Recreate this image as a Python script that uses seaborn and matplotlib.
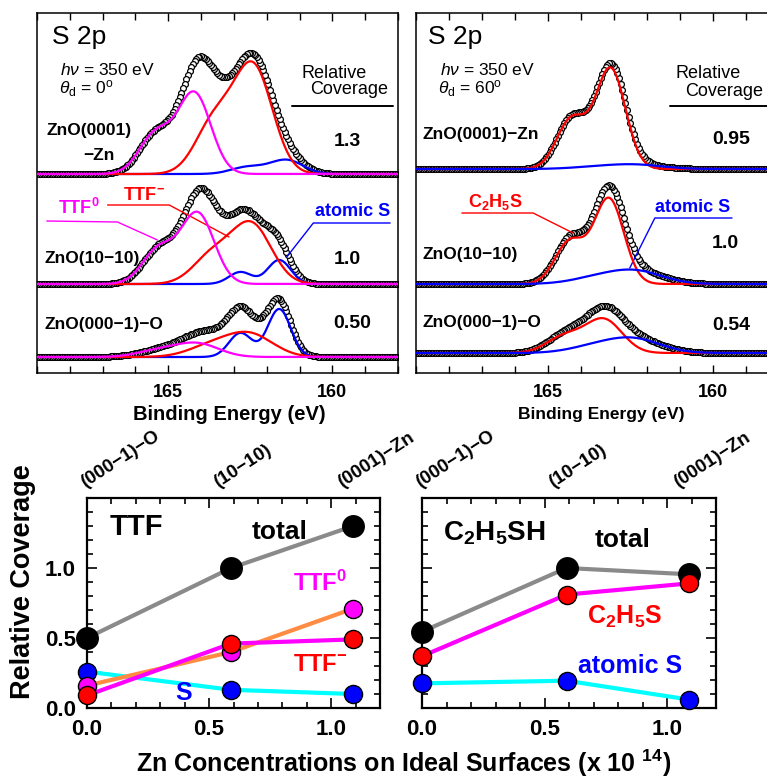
import numpy as np
import pandas as pd
import seaborn as sns
import matplotlib.pyplot as plt
from matplotlib.ticker import MultipleLocator

sns.set_style("ticks")
plt.rcParams['font.family'] = ['Liberation Sans', 'DejaVu Sans']
plt.rcParams['mathtext.fontset'] = 'custom'
plt.rcParams['mathtext.rm'] = 'Liberation Sans'
plt.rcParams['mathtext.it'] = 'Liberation Sans:italic'
plt.rcParams['mathtext.bf'] = 'Liberation Sans:bold'
for key in ['text.color', 'axes.labelcolor', 'xtick.color', 'ytick.color', 'axes.edgecolor']:
    plt.rcParams[key] = 'black'

MINUS = "\u2212"

# ---- S 2p spectra, fitted components ----
# each component is an S 2p doublet: 2p3/2 position (eV), peak height (a.u.), gaussian width (eV)
ttf_surfaces = ["ZnO(0001)\n" + MINUS + "Zn", "ZnO(10" + MINUS + "10)", "ZnO(000" + MINUS + "1)" + MINUS + "O"]
ttf_coverage = ["1.3", "1.0", "0.50"]
ttf0_pos = [164.2, 164.1, 164.1]
ttf0_height = [80, 70, 13]
ttf0_width = [0.5, 0.5, 0.65]
ttfm_pos = [162.4, 162.45, 162.5]
ttfm_height = [105, 58, 22]
ttfm_width = [0.58, 0.6, 0.7]
ttfs_pos = [161.4, 161.62, 161.62]
ttfs_height = [14, 24, 48]
ttfs_width = [0.5, 0.35, 0.35]

eth_surfaces = ["ZnO(0001)" + MINUS + "Zn", "ZnO(10" + MINUS + "10)", "ZnO(000" + MINUS + "1)" + MINUS + "O"]
eth_coverage = ["0.95", "1.0", "0.54"]
eth_c2h5s_pos = [163.1, 163.15, 163.3]
eth_c2h5s_height = [100, 85, 33]
eth_c2h5s_width = [0.45, 0.45, 0.55]
eth_s_pos = [162.3, 162.3, 162.35]
eth_s_height = [4, 12, 13]
eth_s_width = [0.8, 0.8, 0.8]

SO_SPLIT = 1.18   # 2p1/2 - 2p3/2 splitting
SO_RATIO = 0.5

# ---- coverage vs Zn concentration ----
zn_conc = [0.0, 0.59, 1.09]
surface_names = ["(000" + MINUS + "1)" + MINUS + "O", "(10" + MINUS + "10)", "(0001)" + MINUS + "Zn"]
ttf_total = [0.50, 1.00, 1.30]
ttf_neutral = [0.16, 0.40, 0.71]
ttf_anion = [0.09, 0.46, 0.49]
ttf_atomic_s = [0.26, 0.13, 0.10]
eth_total = [0.545, 1.00, 0.955]
eth_thiolate = [0.37, 0.81, 0.89]
eth_atomic_s = [0.176, 0.195, 0.06]

# layout: vertical offsets of the stacked spectra, nudges of the rotated surface names
ttf_offsets = [199, 89, 16]
eth_offsets = [204, 89, 20]
name_nudge = [0.0, -0.045, -0.035]

energy = np.arange(158.0, 169.2, 0.05)


def doublet(c, h, w):
    return (h * np.exp(-(energy - c) ** 2 / (2 * w ** 2))
            + SO_RATIO * h * np.exp(-(energy - c - SO_SPLIT) ** 2 / (2 * w ** 2)))


MAG = '#ff00ff'
RED = '#ff0000'
BLUE = '#0000ff'
CYAN = '#00ffff'
ORANGE = '#ff8c42'
GRAY = '#8a8a8a'

fig = plt.figure(figsize=(7.67, 7.80), dpi=100)
W, H = 767, 780


def px_axes(x0, y0, x1, y1):
    return fig.add_axes([x0 / W, (H - y1) / H, (x1 - x0) / W, (y1 - y0) / H])


def spectra_axes(ax, xmax):
    ax.set_xlim(169.0, xmax)
    ax.set_ylim(0, 360)
    ax.set_yticks([])
    ax.set_xticks([165, 160])
    ax.xaxis.set_minor_locator(MultipleLocator(1))
    ax.tick_params(axis='x', which='both', direction='in', top=True, width=1)
    ax.tick_params(axis='x', which='major', length=6, labelsize=13, pad=8)
    ax.tick_params(axis='x', which='minor', length=5)
    for lab in ax.get_xticklabels():
        lab.set_fontweight('bold')
    for sp in ax.spines.values():
        sp.set_linewidth(1.1)


def draw_spectrum(ax, off, comps):
    total = sum(y for y, _ in comps)
    ax.plot(energy, total + off, ls='none', marker='o', ms=4.2, mfc='white',
            mec='black', mew=0.9, zorder=2)
    for y, col in comps:
        sns.lineplot(x=energy, y=y + off, color=col, lw=1.6, ax=ax, sort=False,
                     estimator=None, zorder=3)


# ---------- top left: TTF ----------
ax1 = px_axes(37, 13, 398, 373)
spectra_axes(ax1, 158.0)
for i in range(3):
    comps = [(doublet(ttfs_pos[i], ttfs_height[i], ttfs_width[i]), BLUE),
             (doublet(ttfm_pos[i], ttfm_height[i], ttfm_width[i]), RED),
             (doublet(ttf0_pos[i], ttf0_height[i], ttf0_width[i]), MAG)]
    draw_spectrum(ax1, ttf_offsets[i], comps)

ax1.text(168.55, 336, "S 2p", fontsize=19, va='center')
ax1.text(168.30, 303, r"$h\nu$ = 350 eV", fontsize=12.5, va='center')
ax1.text(168.33, 284, r"$\theta_\mathrm{d}$ = 0$^\mathrm{o}$", fontsize=12.5, va='center')
ax1.text(160.94, 300, "Relative", fontsize=13, va='center')
ax1.text(160.67, 283, "Coverage", fontsize=13, va='center')
ax1.plot([161.24, 158.15], [267, 267], color='black', lw=1.4)
ax1.text(168.72, 242, "ZnO(0001)", fontsize=12.5, fontweight='bold', va='center')
ax1.text(167.6, 218, MINUS + "Zn", fontsize=12.5, fontweight='bold', va='center')
ax1.text(168.76, 115, ttf_surfaces[1], fontsize=12.5, fontweight='bold', va='center')
ax1.text(168.76, 48, ttf_surfaces[2], fontsize=12.5, fontweight='bold', va='center')
for y, t in zip([232, 114, 50], ttf_coverage):
    ax1.text(159.97, y, t, fontsize=14, fontweight='bold', va='center')
ax1.text(168.36, 165, r"TTF$^{\mathbf{0}}$", fontsize=13, fontweight='bold', color=MAG, va='center')
ax1.plot([168.70, 166.55, 165.33], [152, 151, 133], color=MAG, lw=1)
ax1.text(166.39, 178, r"TTF$^{\mathbf{-}}$", fontsize=13, fontweight='bold', color=RED, va='center')
ax1.plot([166.85, 164.97, 163.15], [168, 168, 136], color=RED, lw=1)
ax1.text(160.52, 161, "atomic S", fontsize=13, fontweight='bold', color=BLUE, va='center')
ax1.plot([158.24, 160.58, 161.39], [150, 150, 116], color=BLUE, lw=1)
ax1.set_xlabel("Binding Energy (eV)", fontsize=14.5, fontweight='bold')
ax1.xaxis.set_label_coords(0.532, -0.088)

# ---------- top right: C2H5SH ----------
ax2 = px_axes(416, 13, 767, 373)
spectra_axes(ax2, 158.36)
ax2.spines['right'].set_visible(False)
for i in range(3):
    comps = [(doublet(eth_c2h5s_pos[i], eth_c2h5s_height[i], eth_c2h5s_width[i]), RED),
             (doublet(eth_s_pos[i], eth_s_height[i], eth_s_width[i]), BLUE)]
    draw_spectrum(ax2, eth_offsets[i], comps)

ax2.text(168.64, 336, "S 2p", fontsize=19, va='center')
ax2.text(168.27, 303, r"$h\nu$ = 350 eV", fontsize=12.5, va='center')
ax2.text(168.33, 284, r"$\theta_\mathrm{d}$ = 60$^\mathrm{o}$", fontsize=12.5, va='center')
ax2.text(161.12, 300, "Relative", fontsize=13, va='center')
ax2.text(160.85, 281, "Coverage", fontsize=13, va='center')
ax2.plot([161.3, 158.3], [267, 267], color='black', lw=1.4, clip_on=False)
for y, t in zip([238, 118, 51], eth_surfaces):
    ax2.text(168.79, y, t, fontsize=12.5, fontweight='bold', va='center')
for y, t in zip([233, 130, 48], eth_coverage):
    ax2.text(160.03, y, t, fontsize=14, fontweight='bold', va='center')
ax2.text(167.42, 171, r"C$_{\mathbf{2}}$H$_{\mathbf{5}}$S", fontsize=13, fontweight='bold', color=RED, va='center')
ax2.plot([167.61, 165.45, 164.24], [160, 160, 140], color=RED, lw=1)
ax2.text(161.76, 166, "atomic S", fontsize=13, fontweight='bold', color=BLUE, va='center')
ax2.plot([159.42, 161.76, 162.52], [155, 155, 105], color=BLUE, lw=1)
ax2.set_xlabel("Binding Energy (eV)", fontsize=12.5, fontweight='bold')
ax2.xaxis.set_label_coords(0.527, -0.095)


# ---------- bottom panels ----------
def coverage_axes(ax, left_labels):
    ax.set_xlim(0, 1.2)
    ax.set_ylim(0, 1.5)
    ax.set_xticks([0, 0.5, 1.0])
    ax.set_yticks([0, 0.5, 1.0])
    ax.set_xticklabels(["0.0", "0.5", "1.0"])
    ax.set_yticklabels(["0.0", "0.5", "1.0"])
    ax.xaxis.set_minor_locator(MultipleLocator(0.1))
    ax.yaxis.set_minor_locator(MultipleLocator(0.1))
    ax.tick_params(which='both', direction='in', top=True, right=True, width=1.2)
    ax.tick_params(which='major', length=7, labelsize=16, pad=8)
    ax.tick_params(which='minor', length=4)
    ax.tick_params(axis='y', labelleft=left_labels)
    for lab in ax.get_xticklabels() + ax.get_yticklabels():
        lab.set_fontweight('bold')
    for sp in ax.spines.values():
        sp.set_linewidth(1.6)
    ax.set_xlabel("")
    ax.set_ylabel("")
    for x, dx, name in zip(zn_conc, name_nudge, surface_names):
        ax.text(x + dx, 1.55, name, fontsize=13.5, fontweight='bold', rotation=33,
                rotation_mode='anchor', ha='left', va='bottom', clip_on=False)


def series(ax, yvals, line_col, marker_col, size):
    df = pd.DataFrame({'conc': zn_conc, 'coverage': yvals})
    sns.lineplot(data=df, x='conc', y='coverage', color=line_col, lw=3, ax=ax, zorder=2)
    sns.scatterplot(data=df, x='conc', y='coverage', color=marker_col, s=size,
                    edgecolor='black', linewidth=1, ax=ax, zorder=3, clip_on=False)


ax3 = px_axes(87, 498, 380, 708)
series(ax3, ttf_total, GRAY, 'black', 240)
series(ax3, ttf_atomic_s, CYAN, BLUE, 170)
series(ax3, ttf_neutral, ORANGE, MAG, 170)
series(ax3, ttf_anion, MAG, RED, 170)
coverage_axes(ax3, True)
ax3.text(0.094, 1.29, "TTF", fontsize=21, fontweight='bold', va='center')
ax3.text(0.676, 1.26, "total", fontsize=19, fontweight='bold', va='center')
ax3.text(0.844, 0.89, r"TTF$^{\mathbf{0}}$", fontsize=17, fontweight='bold', color=MAG, va='center')
ax3.text(0.844, 0.31, r"TTF$^{\mathbf{-}}$", fontsize=17, fontweight='bold', color=RED, va='center')
ax3.text(0.361, 0.107, "S", fontsize=18, fontweight='bold', color=BLUE, va='center')
ax3.set_ylabel("Relative Coverage", fontsize=19.5, fontweight='bold')
ax3.yaxis.set_label_coords(-0.175, 0.6)

ax4 = px_axes(422, 498, 716, 708)
series(ax4, eth_total, GRAY, 'black', 240)
series(ax4, eth_atomic_s, CYAN, BLUE, 170)
series(ax4, eth_thiolate, MAG, RED, 170)
coverage_axes(ax4, False)
ax4.text(0.086, 1.25, r"C$_{\mathbf{2}}$H$_{\mathbf{5}}$SH", fontsize=20, fontweight='bold', va='center')
ax4.text(0.706, 1.20, "total", fontsize=19, fontweight='bold', va='center')
ax4.text(0.673, 0.65, r"C$_{\mathbf{2}}$H$_{\mathbf{5}}$S", fontsize=18, fontweight='bold', color=RED, va='center')
ax4.text(0.637, 0.30, "atomic S", fontsize=18, fontweight='bold', color=BLUE, va='center')

fig.text(404 / W, 1 - 763 / H, r"Zn Concentrations on Ideal Surfaces (x 10 $^{\mathbf{14}}$)",
         fontsize=18, fontweight='bold', ha='center', va='center')

fig.savefig("out.png", dpi=100)
